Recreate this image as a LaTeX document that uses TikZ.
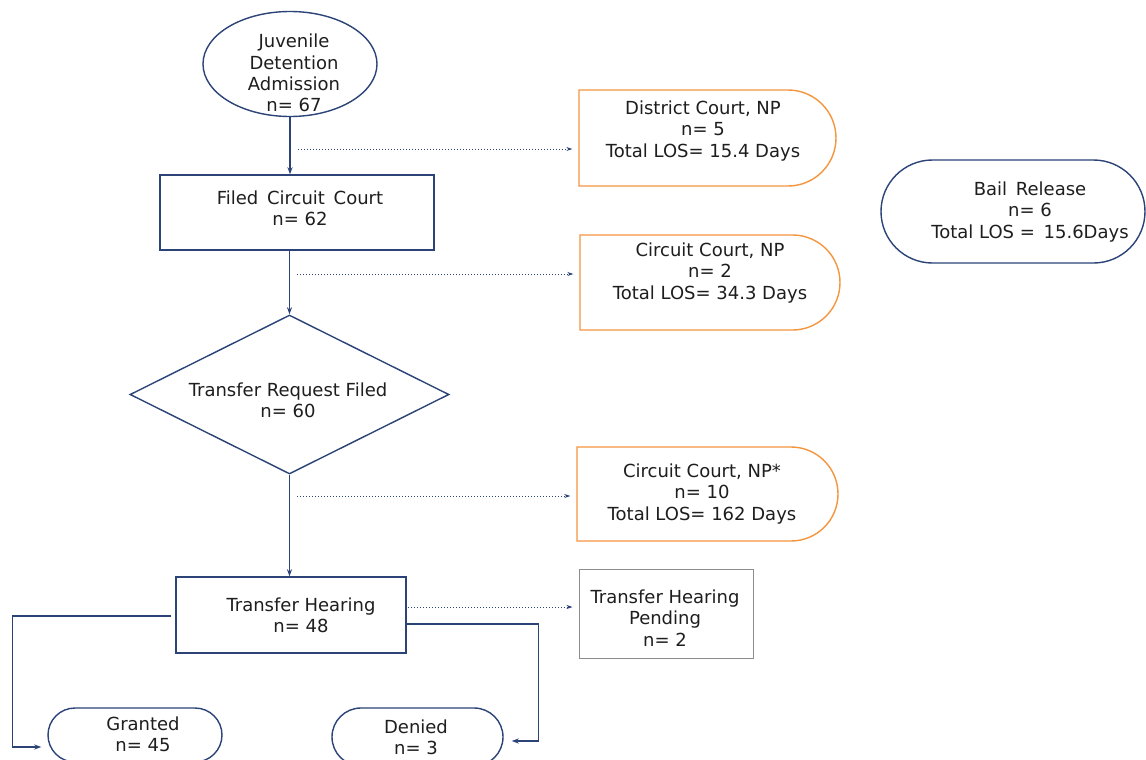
\documentclass[tikz,border=0pt]{standalone}
\usepackage{fontspec}
\setmainfont{DejaVu Sans}
\usetikzlibrary{shapes.geometric,shapes.misc,arrows.meta}
\definecolor{navy}{HTML}{2B4377}
\definecolor{orng}{HTML}{F5963F}
\definecolor{gry}{HTML}{8C8C8C}
\definecolor{txt}{HTML}{1E1E1E}
\begin{document}
\begin{tikzpicture}[x=1pt,y=-1pt,
  shp/.style={inner sep=0pt, line width=1.4pt},
  nbox/.style={shp, draw=navy, rectangle},
  obox/.style={shp, draw=orng, rounded rectangle, rounded rectangle left arc=none},
  stad/.style={shp, draw=navy, rounded rectangle},
  lbl/.style={font=\fontsize{18}{21.4}\selectfont, align=center, text=txt, inner sep=0pt},
  arr/.style={draw=navy, line width=1.4pt, -{Stealth[length=7pt,width=5pt]}},
  dots/.style={draw=navy, line width=1pt, dotted, -{Stealth[length=6pt,width=4pt]}, shorten >=6pt}
]
\useasboundingbox (0,0) rectangle (1146,760);
\fill[white] (0,0) rectangle (1146,760);

% shapes
\node[shp, draw=navy, ellipse, minimum width=174pt, minimum height=105pt] (jda) at (290,64) {};
\node[nbox, minimum width=274pt, minimum height=75pt] (fcc) at (297,212.5) {};
\node[shp, draw=navy, diamond, aspect=2, minimum width=319pt, minimum height=159pt] (trf) at (289.5,394.5) {};
\node[nbox, minimum width=230pt, minimum height=76pt] (th) at (291,615) {};
\node[shp, draw=gry, rectangle, line width=1pt, minimum width=174pt, minimum height=89pt] (pend) at (666,613.5) {};
\node[obox, minimum width=257pt, minimum height=96pt] (dc) at (707.5,138) {};
\node[obox, minimum width=260pt, minimum height=95pt] (cc) at (710,282.5) {};
\node[obox, minimum width=261pt, minimum height=94pt] (ccs) at (707.5,494) {};
\node[stad, minimum width=264pt, minimum height=103pt] (bail) at (1013,211.5) {};
\node[stad, minimum width=174pt, minimum height=54pt] (gr) at (135,735) {};
\node[stad, minimum width=171pt, minimum height=58pt] (dn) at (417.5,737) {};

% texts
\node[lbl] (tjda) at (294,73) {Juvenile\\Detention\\Admission\\n= 67};
\node[lbl] (tfcc) at (300,208) {Filed\, Circuit\, Court\\n= 62};
\node[lbl] (ttrf) at (288,400) {Transfer Request Filed\\n= 60};
\node[lbl] (tth) at (301,615) {Transfer Hearing\\n= 48};
\node[lbl] (tpend) at (665,618) {Transfer Hearing\\Pending\\n= 2};
\node[lbl] (tdc) at (703,131) {District Court, NP\\n= 5\\Total LOS= 15.4 Days};
\node[lbl] (tcc) at (710,273) {Circuit Court, NP\\n= 2\\Total LOS= 34.3 Days};
\node[lbl] (tccs) at (702,494) {Circuit Court, NP*\\n= 10\\Total LOS= 162 Days};
\node[lbl] (tbail) at (1030,212) {Bail\, Release\\n= 6\\Total LOS = \,15.6Days};
\node[lbl] (tgr) at (143,734) {Granted\\n= 45};
\node[lbl] (tdn) at (416,737) {Denied\\n= 3};

% main flow
\draw[arr] (jda.south) -- (jda.south |- fcc.north);
\draw[arr] (trf.north |- fcc.south) -- (trf.north);
\draw[arr] (trf.south) -- (trf.south |- th.north);

% dotted side arrows
\coordinate (d1) at (298,149);
\coordinate (d2) at (297,274);
\coordinate (d3) at (297,496);
\coordinate (d4) at (408,607);
\draw[dots] (d1) -- (d1 -| dc.west);
\draw[dots] (d2) -- (d2 -| cc.west);
\draw[dots] (d3) -- (d3 -| ccs.west);
\draw[dots] (d4) -- (d4 -| pend.west);

% outcome branches
\draw[arr] ([xshift=-4pt,yshift=-1pt]th.west) -- ++(-159,0) |- ([xshift=-6pt,yshift=-12pt]gr.west);
\draw[arr] ([yshift=-9pt]th.east) -- ++(132,0) |- ([xshift=8pt,yshift=-4pt]dn.east);
\end{tikzpicture}
\end{document}
